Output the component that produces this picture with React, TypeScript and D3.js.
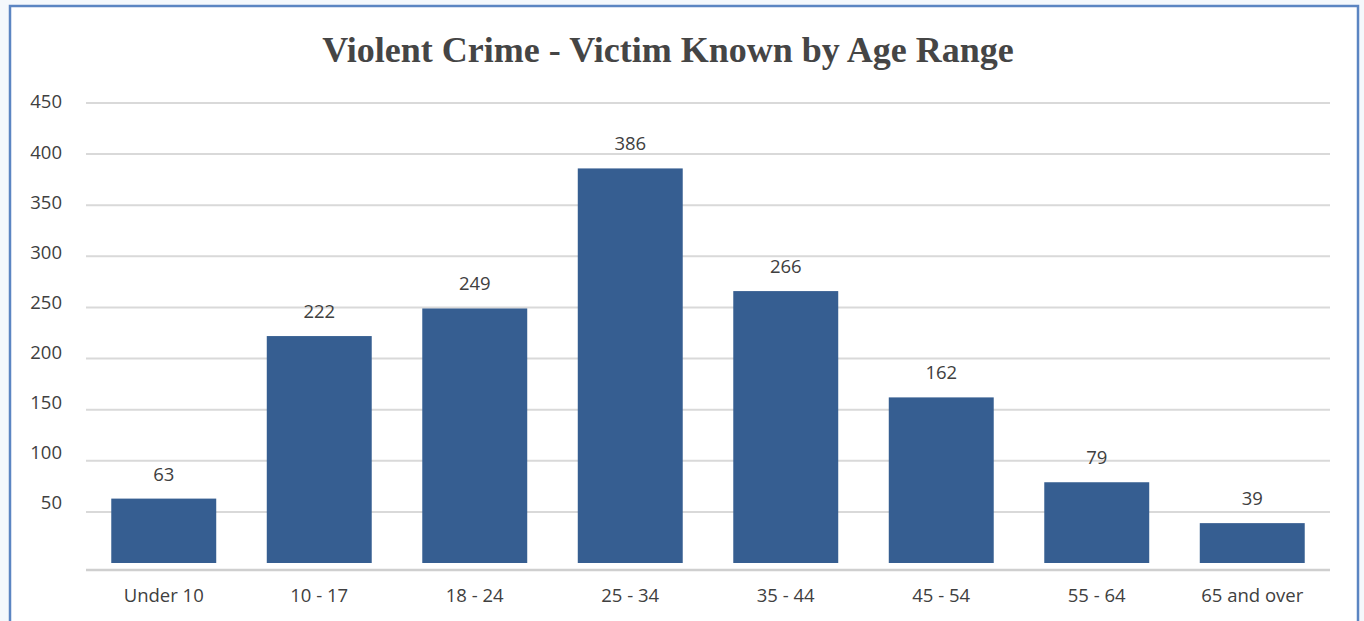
import React from "react";
import * as d3 from "d3";

const categories = ["Under 10", "10 - 17", "18 - 24", "25 - 34", "35 - 44", "45 - 54", "55 - 64", "65 and over"];
const values = [63, 222, 249, 386, 266, 162, 79, 39];
const yTicks = [50, 100, 150, 200, 250, 300, 350, 400, 450];
const title = "Violent Crime - Victim Known by Age Range";

const W = 1364;
const H = 621;

export default function App() {
  const x = d3.scaleBand<string>().domain(categories).range([86, 1330]).paddingInner(0.325).paddingOuter(0.1625);
  const y = d3.scaleLinear().domain([0, 450]).range([563, 103]);
  const sans = "'Open Sans', 'Noto Sans', sans-serif";
  return (
    <svg width={W} height={H} style={{ position: "absolute", left: 0, top: 0, background: "#fff" }}>
      <rect x={0} y={0} width={W} height={H} fill="#f4f8fc" />
      <rect x={10} y={6} width={1348} height={630} fill="#ffffff" stroke="#5b85c2" strokeWidth={2.5} />
      <text x={668} y={62} textAnchor="middle" fontFamily="'Liberation Serif', 'Times New Roman', serif" fontWeight="bold" fontSize={36} fill="#454545">
        {title}
      </text>
      {yTicks.map((t) => (
        <g key={t}>
          <line x1={86} x2={1330} y1={y(t)} y2={y(t)} stroke="#d9d9d9" strokeWidth={2} />
          <text x={62} y={y(t) - 1 - (450 - t) * 0.02} dy="0.35em" textAnchor="end" fontFamily={sans} fontSize={18.5} fill="#404040">
            {t}
          </text>
        </g>
      ))}
      <line x1={86} x2={1330} y1={570} y2={570} stroke="#cfcfcf" strokeWidth={2.5} />
      {categories.map((c, i) => (
        <g key={c}>
          <rect x={x(c)} y={y(values[i])} width={x.bandwidth()} height={y(0) - y(values[i])} fill="#365e91" />
          <text x={(x(c) as number) + x.bandwidth() / 2} y={y(values[i]) - 18} textAnchor="middle" fontFamily={sans} fontSize={18.5} fill="#404040">
            {values[i]}
          </text>
          <text x={(x(c) as number) + x.bandwidth() / 2} y={602} textAnchor="middle" fontFamily={sans} fontSize={18.5} fill="#404040">
            {c}
          </text>
        </g>
      ))}
    </svg>
  );
}
